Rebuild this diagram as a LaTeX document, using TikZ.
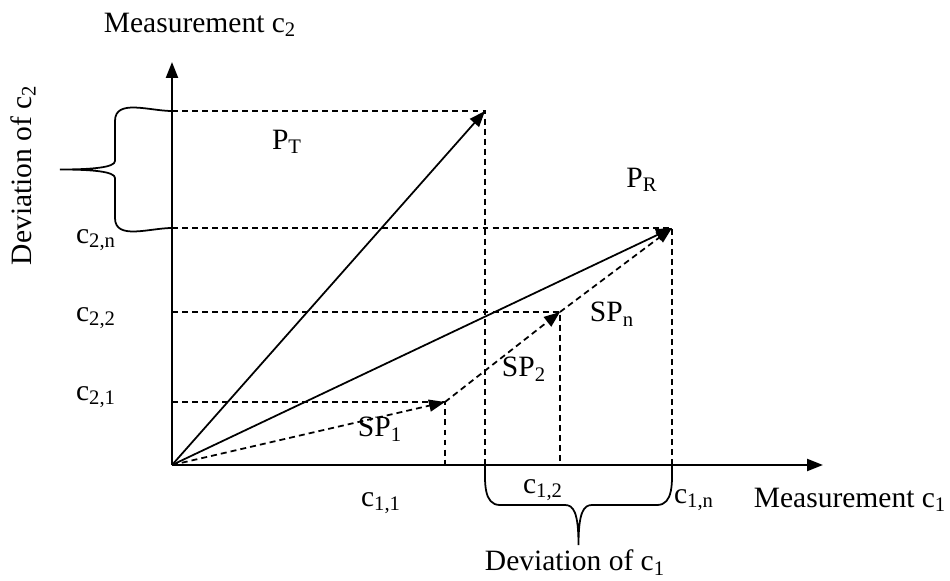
\documentclass[tikz,border=0pt]{standalone}
\usepackage{fontspec}
\setmainfont{Liberation Serif}
\usetikzlibrary{arrows.meta,positioning,calc}
\newcommand{\lblfont}{\fontsize{16.8}{19}\selectfont}

\begin{document}
\begin{tikzpicture}[
  axis/.style={line width=1.2pt,-{Triangle[length=3.2mm,width=2.4mm]}},
  vec/.style={line width=1pt,-{Triangle[length=3.2mm,width=2.4mm]}},
  subvec/.style={vec,dash pattern=on 3.4pt off 2.3pt},
  guide/.style={line width=0.9pt,dash pattern=on 3.4pt off 2.3pt},
  brace/.style={line width=1pt},
  lbl/.style={font=\lblfont,inner sep=1pt}]

\useasboundingbox (-3.44,-2.3) rectangle (15.56,9.3);

% ------------- points -------------
\coordinate (O) at (0,0);
\coordinate (xend) at (13.02,0);
\coordinate (yend) at (0,8.06);
\coordinate (PT) at (6.26,7.08);
\coordinate (PR) at (10.0,4.74);
\coordinate (SP1) at (5.46,1.26);
\coordinate (SP2) at (7.76,3.06);

% ------------- guides -------------
\draw[guide] (O |- PT) -- (PT) -- (PT |- O);
\draw[guide] (O |- PR) -- (PR) -- (PR |- O);
\draw[guide] (O |- SP2) -- (SP2) -- (SP2 |- O);
\draw[guide] (O |- SP1) -- (SP1) -- (SP1 |- O);

% ------------- axes -------------
\draw[axis] (O) -- (xend);
\draw[axis] (O) -- (yend);

% ------------- vectors -------------
\draw[vec] (O) -- (PT);
\draw[vec] (O) -- (PR);
\draw[subvec] (O) -- (SP1);
\draw[subvec] (SP1) -- (SP2);
\draw[subvec] (SP2) -- (PR);

% ------------- braces -------------
\draw[brace] (O |- PT) to[out=180,in=90] (-1.14,6.88) -- (-1.14,6.08)
  .. controls (-1.14,5.95) and (-1.6,5.91) .. (-2.24,5.91)
  .. controls (-1.6,5.91) and (-1.14,5.87) .. (-1.14,5.74)
  -- (-1.14,4.94) to[out=-90,in=180] (O |- PR);
\draw[brace] (PT |- O) to[out=-90,in=180] (6.56,-0.8) -- (7.86,-0.8)
  .. controls (8.03,-0.8) and (8.13,-0.95) .. (8.13,-1.6)
  .. controls (8.13,-0.95) and (8.23,-0.8) .. (8.4,-0.8)
  -- (9.7,-0.8) to[out=0,in=-90] (PR |- O);

% ------------- labels -------------
\node[lbl] (yname) at (0.56,8.8) {Measurement c\textsubscript{2}};
\node[lbl] (xname) at (13.56,-0.7) {Measurement c\textsubscript{1}};
\node[lbl,rotate=90] (ydev) at (-2.98,5.8) {Deviation of c\textsubscript{2}};
\node[lbl] (xdev) at (8.06,-1.95) {Deviation of c\textsubscript{1}};
\node[lbl] (c2n) at (-1.52,4.5) {c\textsubscript{2,n}};
\node[lbl] (c22) at (-1.52,2.94) {c\textsubscript{2,2}};
\node[lbl] (c21) at (-1.52,1.36) {c\textsubscript{2,1}};
\node[lbl] (c11) at (4.18,-0.76) {c\textsubscript{1,1}};
\node[lbl] (c12) at (7.42,-0.5) {c\textsubscript{1,2}};
\node[lbl] (c1n) at (10.44,-0.7) {c\textsubscript{1,n}};
\node[lbl] (lPT) at (2.3,6.46) {P\textsubscript{T}};
\node[lbl] (lPR) at (9.4,5.7) {P\textsubscript{R}};
\node[lbl] (lSP1) at (4.16,0.72) {SP\textsubscript{1}};
\node[lbl] (lSP2) at (7.04,1.92) {SP\textsubscript{2}};
\node[lbl] (lSPn) at (8.8,3.02) {SP\textsubscript{n}};

\end{tikzpicture}
\end{document}
